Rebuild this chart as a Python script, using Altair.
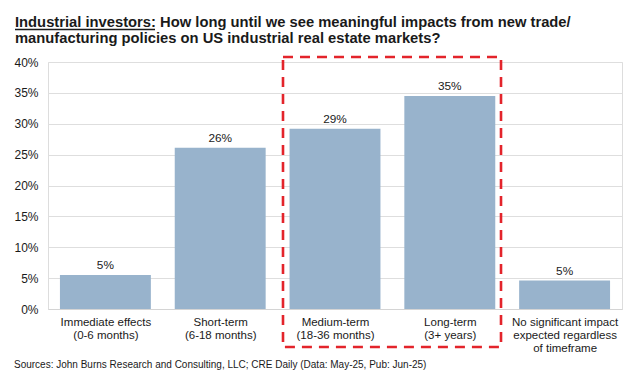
import altair as alt
import pandas as pd

categories = ["Immediate effects|(0-6 months)", "Short-term|(6-18 months)",
              "Medium-term|(18-36 months)", "Long-term|(3+ years)",
              "No significant impact|expected regardless|of timeframe"]
values = [0.055, 0.261, 0.292, 0.345, 0.046]
labels = ["5%", "26%", "29%", "35%", "5%"]

# highlight box around the medium/long-term categories (category-index units, share units)
box_x = [1.547]
box_x2 = [3.446]
box_y = [-0.0615]
box_y2 = [0.408]

title_lead = "Industrial investors:"
title_line1 = "Industrial investors: How long until we see meaningful impacts from new trade/"
title_line2 = "manufacturing policies on US industrial real estate markets?"
source = "Sources: John Burns Research and Consulting, LLC; CRE Daily (Data: May-25, Pub: Jun-25)"

FONT = "Liberation Sans"
TXT = "#1a1a1a"
df = pd.DataFrame({"cat": categories, "val": values, "lab": labels,
                   "idx": list(range(len(categories)))})
box = pd.DataFrame({"x": box_x, "x2": box_x2, "y": box_y, "y2": box_y2})

W, H = 574, 247
HALF = 0.396

cat_js = "[" + ",".join("'" + c + "'" for c in categories) + "]"
xscale = alt.Scale(domain=[-0.5, 4.5], nice=False, zero=False)
yscale = alt.Scale(domain=[0, 0.4], nice=False)

base = alt.Chart(df).transform_calculate(x0=f"datum.idx - {HALF}", x1=f"datum.idx + {HALF}")

bars = base.mark_bar(color="#98B3CC").encode(
    x=alt.X("x0:Q", scale=xscale, title=None),
    x2="x1:Q",
    y=alt.Y("val:Q", scale=yscale, title=None),
    y2=alt.datum(0),
)
text = alt.Chart(df).mark_text(dy=-6, baseline="alphabetic", font=FONT, fontSize=11.8,
                               color=TXT).encode(
    x=alt.X("idx:Q", scale=xscale, title=None),
    y=alt.Y("val:Q", scale=yscale, title=None), text="lab:N")

rect = alt.Chart(box).mark_rect(fill=None, stroke="#E3242B", strokeWidth=2.6,
                                strokeDash=[10, 7], clip=False).encode(
    x=alt.X("x:Q", scale=xscale, title=None), x2="x2:Q",
    y=alt.Y("y:Q", scale=yscale, title=None), y2="y2:Q")

t1 = alt.Chart(pd.DataFrame({"t": [title_line1]})).mark_text(
    align="left", baseline="alphabetic", font=FONT, fontSize=14.75, fontWeight="bold",
    color=TXT).encode(x=alt.value(-33), y=alt.value(-35), text="t:N")
t2 = alt.Chart(pd.DataFrame({"t": [title_line2]})).mark_text(
    align="left", baseline="alphabetic", font=FONT, fontSize=14.75, fontWeight="bold",
    color=TXT).encode(x=alt.value(-33), y=alt.value(-19), text="t:N")
underline = alt.Chart(pd.DataFrame({"t": [title_lead]})).mark_rule(
    color=TXT, strokeWidth=1.3).encode(x=alt.value(-33), x2=alt.value(107), y=alt.value(-32.5))
src = alt.Chart(pd.DataFrame({"s": [source]})).mark_text(
    align="left", baseline="alphabetic", font=FONT, fontSize=10, color=TXT).encode(
    x=alt.value(-34), y=alt.value(H + 59), text="s:N")

chart = alt.layer(bars, text, rect, t1, t2, underline, src).properties(
    width=W, height=H,
    autosize=alt.AutoSizeParams(type="none"),
    padding={"left": 40, "top": 54, "right": 3, "bottom": 61},
).configure_view(stroke=None, strokeWidth=0).configure(background="white").configure_axisX(
    tickCount=5, grid=False, labelExpr=f"split({cat_js}[datum.value], '|')",
    labelFont=FONT, labelFontSize=11.5, labelColor=TXT, labelLineHeight=13,
    labelPadding=7, ticks=False, domainColor="#d4d4d4", labelBaseline="top",
    labelOverlap=False, labelAngle=0
).configure_axisY(
    tickCount=8, format=".0%", labelFont=FONT, labelFontSize=12, labelColor=TXT,
    gridColor="#dedede", domain=False, domainOpacity=0, ticks=False, labelPadding=10,
    labelOverlap=False
)

chart.save("out.html", embed_options={"renderer": "svg", "actions": False})
